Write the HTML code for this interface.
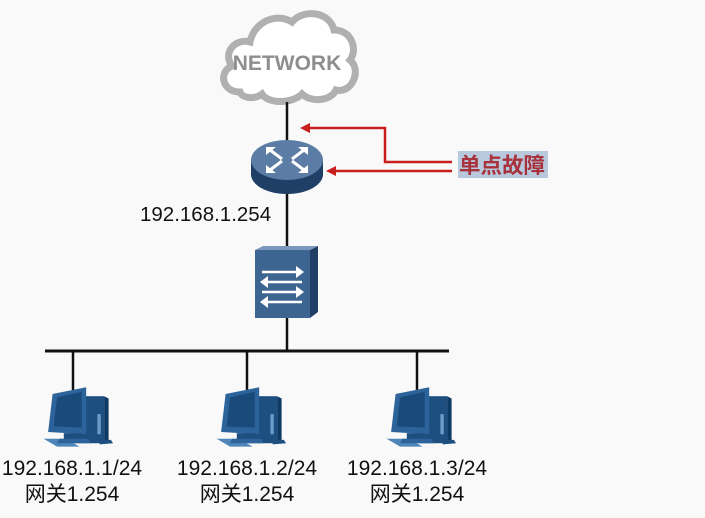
<!DOCTYPE html>
<html><head><meta charset="utf-8"><style>
html,body{margin:0;padding:0;background:#f9f9f9;}
svg{display:block}
text{font-family:"Liberation Sans","Noto Sans CJK SC",sans-serif;}
</style></head><body>
<svg width="705" height="518" viewBox="0 0 705 518" xmlns="http://www.w3.org/2000/svg">
<rect width="705" height="518" fill="#f9f9f9"/>
<!-- cloud -->
<path d="M240,92 C222,92 218,72 232,66 C222,52 236,38 250,42 C254,22 276,12 292,22 C304,8 330,12 334,30 C352,30 358,50 350,60 C362,70 352,94 336,90 C330,102 310,102 302,94 C292,104 268,104 262,94 C254,100 242,98 240,92 Z" fill="#ffffff" stroke="#b0b0b0" stroke-width="7"/>
<text x="287" y="70" font-size="21" font-weight="bold" fill="#8e8e8e" text-anchor="middle">NETWORK</text>
<!-- main vertical line -->
<line x1="287" y1="102" x2="287" y2="351" stroke="#111" stroke-width="2.5"/>
<!-- router -->
<path d="M251,160 L251,174 A36,20 0 0 0 323,174 L323,160 Z" fill="#1f3f66"/>
<ellipse cx="287" cy="174" rx="36" ry="20" fill="#1f3f66"/>
<ellipse cx="287" cy="160" rx="36" ry="20" fill="#5b7ca5"/>
<g stroke="#fff" stroke-width="3" fill="none">
<path d="M270,150 l12,9 M304,150 l-12,9 M270,170 l12,-9 M304,170 l-12,-9"/>
</g>
<g fill="#fff">
<polygon points="266,147 276,147 266,155"/><polygon points="308,147 298,147 308,155"/>
<polygon points="266,173 276,173 266,165"/><polygon points="308,173 298,173 308,165"/>
</g>
<text x="140" y="221" font-size="20.5" fill="#111">192.168.1.254</text>
<!-- switch -->
<polygon points="310,250 318,246 318,312 310,318" fill="#1f3f66"/>
<polygon points="255,250 263,246 318,246 310,250" fill="#7a98bd"/>
<rect x="255" y="250" width="55" height="68" fill="#3d6592"/>
<g stroke="#fff" stroke-width="2.5" fill="none">
<line x1="262" y1="272" x2="302" y2="272"/><line x1="262" y1="282" x2="302" y2="282"/>
<line x1="262" y1="292" x2="302" y2="292"/><line x1="262" y1="302" x2="302" y2="302"/>
</g>
<g fill="#fff">
<polygon points="304,272 296,266 296,278"/><polygon points="260,282 268,276 268,288"/>
<polygon points="304,292 296,286 296,298"/><polygon points="260,302 268,296 268,308"/>
</g>
<!-- red arrows -->
<g stroke="#c81e1e" stroke-width="2.5" fill="none">
<polyline points="452,162 385,162 385,128 306,128"/>
<line x1="452" y1="171" x2="332" y2="171"/>
</g>
<polygon points="300,128 310,123 310,133" fill="#c81e1e"/>
<polygon points="326,171 336,166 336,176" fill="#c81e1e"/>
<rect x="458" y="151" width="90" height="27" fill="#b8c9de"/>
<text x="459" y="173" font-size="21.5" font-weight="bold" fill="#a8323c">单点故障</text>
<!-- bus -->
<line x1="45" y1="351" x2="449" y2="351" stroke="#111" stroke-width="3"/>
<g stroke="#111" stroke-width="2.5">
<line x1="73" y1="351" x2="73" y2="390"/><line x1="247" y1="351" x2="247" y2="390"/><line x1="417" y1="351" x2="417" y2="390"/>
</g>
<!-- PCs -->
<defs>
<g id="pc">
<polygon points="-28,48 -16,55 4,55 -8,48" fill="#4e86ba"/>
<rect x="0" y="10" width="26" height="42" fill="#1d4f80"/>
<polygon points="26,10 30,12 30,50 26,52" fill="#0e3a66"/>
<rect x="20" y="26" width="3" height="18" fill="#6e9cc8"/>
<path d="M22,49 L32,49 L34,52 L22,53Z" fill="#1d4f80"/>
<polygon points="-20,8 10,2 10,44 -24,42" fill="#2c639b"/>
<polygon points="-16,11 6,6 6,38 -19,37" fill="#1a4a7a"/>
<rect x="-10" y="43" width="16" height="6" fill="#1d4f80"/>
<polygon points="-14,48 12,48 14,52 -16,52" fill="#2c639b"/>
</g>
</defs>
<use href="#pc" transform="translate(75,385) scale(1.12)"/>
<use href="#pc" transform="translate(248,385) scale(1.12)"/>
<use href="#pc" transform="translate(418,385) scale(1.12)"/>
<g font-size="21" fill="#111" text-anchor="middle">
<text x="72" y="475">192.168.1.1/24</text><text x="72" y="501">网关1.254</text>
<text x="247" y="475">192.168.1.2/24</text><text x="247" y="501">网关1.254</text>
<text x="417" y="475">192.168.1.3/24</text><text x="417" y="501">网关1.254</text>
</g>
</svg>
</body></html>
